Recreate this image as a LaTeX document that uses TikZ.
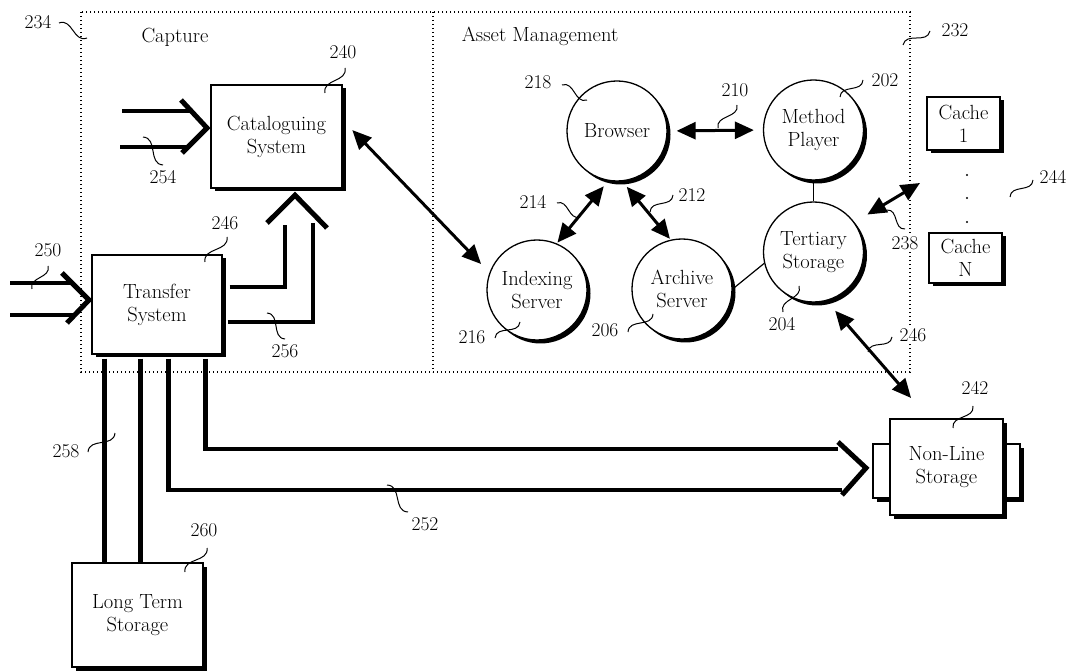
\documentclass[tikz,border=0pt]{standalone}
\usetikzlibrary{arrows.meta,calc,shadows}
\newcommand\bodyfont{\fontsize{20.5}{23}\selectfont}
\newcommand\tagfont{\fontsize{19.5}{21}\selectfont}
% wavy reference leader from #2 to #3 (S-shaped)
\newcommand\lead[3][50]{\draw[leadline] (#2) .. controls ($(#2)!0.45!#1:(#3)$) and ($(#3)!0.45!#1:(#2)$) .. (#3);}
\begin{document}
\begin{tikzpicture}[x=1pt,y=-1pt,
  shade/.style={drop shadow={shadow xshift=3.5pt,shadow yshift=-3.5pt,fill=black,opacity=1}},
  boxnode/.style={draw,fill=white,line width=1.3pt,align=center,inner sep=0pt,font=\bodyfont,shade},
  disc/.style={circle,draw,fill=white,line width=1.3pt,minimum size=100pt,inner sep=0pt,align=center,font=\bodyfont,shade},
  tag/.style={font=\tagfont,inner sep=0pt},
  tagw/.style={tag,fill=white,inner sep=2pt},
  title/.style={font=\bodyfont,inner sep=0pt},
  leadline/.style={line width=1pt},
  flow/.style={line width=4.5pt,line join=miter},
  chevron/.style={line width=5pt,line join=miter},
  link/.style={line width=3pt,{Triangle[length=19pt,width=17pt]}-{Triangle[length=19pt,width=17pt]}},
  plain/.style={line width=1.2pt},
  frame/.style={line width=1.2pt,dash pattern=on 1.2pt off 2.8pt}]
\useasboundingbox (0,0) rectangle (1072,671);

% dotted frames for the two subsystems
\draw[frame] (81,12) rectangle (910,372);
\draw[frame] (433,12) -- (433,372);
\node[title] at (175,37) {Capture};
\node[title] at (540,36) {Asset Management};

% boxes
\node[boxnode,minimum width=131pt,minimum height=103pt] (cat) at (276.5,136.5) {Cataloguing\\System};
\node[boxnode,minimum width=130pt,minimum height=99pt] (tr) at (157,304.5) {Transfer\\System};
\node[boxnode,minimum width=131pt,minimum height=104pt] (lts) at (137.5,615) {Long Term\\Storage};
\node[boxnode,minimum width=17pt,minimum height=54pt] (tabL) at (881.5,471) {};
\node[boxnode,minimum width=17pt,minimum height=54pt] (tabR) at (1011.5,471) {};
\node[boxnode,minimum width=113pt,minimum height=96pt] (nls) at (946.5,467) {Non-Line\\Storage};
\node[boxnode,minimum width=73pt,minimum height=53pt] (c1) at (963.5,123.5) {Cache\\1};
\node[boxnode,minimum width=73pt,minimum height=50pt] (cN) at (965.5,258) {Cache\\N};
\foreach \y in {175,198,222} \fill (967,\y) circle (1.2);

% circles
\node[disc] (br) at (617,131) {Browser};
\node[disc] (mp) at (813.5,130) {Method\\Player};
\node[disc] (ix) at (537,290) {Indexing\\Server};
\node[disc] (ar) at (682,289) {Archive\\Server};
\node[disc] (ts) at (813.5,252) {Tertiary\\Storage};

% thin links
\draw[plain] (mp.south) -- (ts.north);
\draw[plain] (ar.east) -- (ts.193);

% two-way links
\draw[link,shorten <=9pt,shorten >=9pt] (br.east) -- (mp.west);
\draw[link,shorten <=7pt,shorten >=1pt] (br.260) -- (ix.67);
\draw[link,shorten <=7pt,shorten >=1pt] (br.276) -- (ar.103);
\draw[link,shorten <=14pt,shorten >=12pt] (cat.14) -- (ix.160);
\draw[link,shorten <=13pt,shorten >=27pt] (ts.285) -- (nls.110);
\coordinate (g238) at (920,183);
\draw[link,shorten <=15pt] (ts.36) -- (g238);

% wide feed 254 into the cataloguing system
\draw[flow] (122,111) -- (190,111);
\draw[flow] (120,147) -- (188,147);
\draw[chevron] (181,100) -- (207,128) -- (182,153);

% wide feed 250 into the transfer system
\draw[flow] (10,283) -- (72,283);
\draw[flow] (10,315) -- (74,315);
\draw[chevron] (62,273) -- (89,300) -- (67,323);

% wide feed 256 from transfer to cataloguing
\coordinate (u1) at (285,225);
\coordinate (u2) at (313,223);
\draw[flow] ($(tr.east)+(7,-17.5)$) -| (u1);
\draw[flow] ($(tr.east)+(5,17.5)$) -| (u2);
\draw[chevron] (267,223) -- ($(cat.south)+(18.5,6.5)$) -- (327,228);

% wide feed 252 from transfer to non-line storage
\coordinate (v1) at (838,449);
\coordinate (v2) at (842,490);
\draw[flow] ($(tr.south west)+(114,4)$) |- (v1);
\draw[flow] ($(tr.south west)+(77,4)$) |- (v2);
\draw[chevron] (838,442) -- (866,468) -- (842,495);

% pair 258 from transfer to long term storage
\draw[flow] ($(tr.south west)+(13,4)$) -- (lts.north west -| {$(tr.south west)+(13,0)$});
\draw[flow] ($(tr.south west)+(49,4)$) -- (lts.north west -| {$(tr.south west)+(49,0)$});

% reference numerals and leaders
\node[tag] at (38,22) {234};   \lead{59,23}{87,38}
\node[tag] at (955,30) {232};  \lead{903,45}{930,31}
\node[tag] at (343,52) {240};  \lead{325,93}{345,68}
\node[tag] at (163,177) {254}; \lead{143,137}{163,165}
\node[tag] at (48,250) {250};  \lead{32,289}{48,266}
\node[tag] at (225,223) {246}; \lead{205,262}{227,237}
\node[tag] at (285,351) {256}; \lead{267,313}{285,339}
\node[tag] at (66,451) {258};  \lead{88,452}{115,433}
\node[tag] at (204,530) {260}; \lead{185,572}{207,548}
\node[tag] at (425,524) {252}; \lead{387,485}{408,512}
\node[tag] at (975,388) {242}; \lead{953,428}{973,406}
\node[tagw] at (913,335) {246}; \lead{868,352}{892,337}
\node[tag] at (782,324) {204}; \lead{783,312}{799,286}
\node[tag] at (605,330) {206}; \lead{628,332}{653,314}
\node[tag] at (472,337) {216}; \lead{495,338}{520,322}
\node[tag] at (533,202) {214}; \lead{557,203}{580,217}
\node[tag] at (692,195) {212}; \lead{650,212}{673,195}
\node[tag] at (538,82) {218};  \lead{562,85}{587,100}
\node[tag] at (735,90) {210};  \lead{718,128}{737,105}
\node[tag] at (885,80) {202};  \lead{840,97}{863,80}
\node[tagw] at (905,243) {238}; \lead{887,210}{905,229}
\node[tag] at (1053,177) {244}; \lead{1010,197}{1033,180}
\end{tikzpicture}
\end{document}
